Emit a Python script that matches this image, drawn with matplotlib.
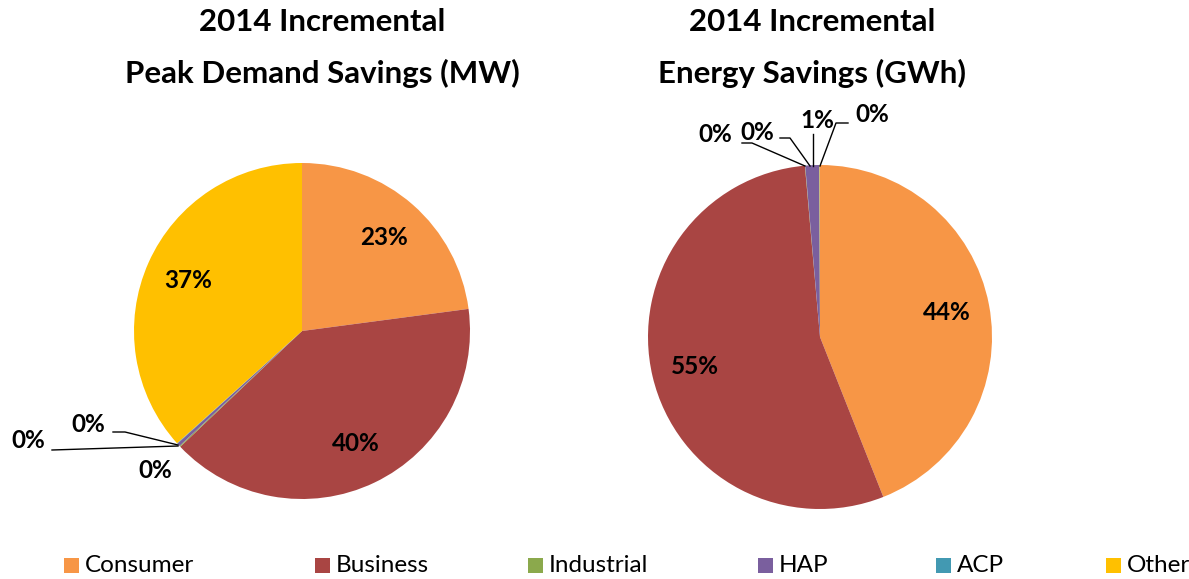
import matplotlib
matplotlib.use("Agg")
import matplotlib.pyplot as plt
from matplotlib.patches import Rectangle

plt.rcParams['font.family'] = ['Lato', 'DejaVu Sans']

categories = ["Consumer", "Business", "Industrial", "HAP", "ACP", "Other"]
colors = ["#F79646", "#A94543", "#8BA94C", "#7A5F9E", "#4299B2", "#FFC000"]
peak_values = [22.9, 40.0, 0.1, 0.3, 0.05, 36.65]
energy_values = [44.0, 54.6, 0.03, 1.3, 0.03, 0.04]
titles = ["2014 Incremental\nPeak Demand Savings (MW)",
          "2014 Incremental\nEnergy Savings (GWh)"]

W, H = 1189, 579
fig = plt.figure(figsize=(W / 100, H / 100), dpi=100)
ax = fig.add_axes([0, 0, 1, 1])

def fmt(v, total):
    return f"{v / total * 100:.0f}%"

def draw_pie(values, title, center, radius, pctdist, small_labels, title_x):
    total = sum(values)
    ax.pie(
        values, colors=colors, startangle=90, counterclock=False,
        center=center, radius=radius,
        autopct=lambda p: f"{p:.0f}%" if p >= 5 else "",
        pctdistance=pctdist,
        wedgeprops=dict(linewidth=0),
        textprops=dict(fontsize=17.5, fontweight='bold', color='black'))
    for idx, (txy, path) in small_labels.items():
        ax.text(txy[0], txy[1], fmt(values[idx], total), fontsize=17.5,
                fontweight='bold', ha='center', va='center')
        if path:
            xs, ys = zip(*path)
            ax.plot(xs, ys, color='black', lw=1)
    line1, line2 = title.split("\n")
    ax.text(title_x, H - 22, line1, fontsize=22.5, fontweight='bold',
            ha='center', va='center')
    ax.text(title_x, H - 73, line2, fontsize=22.5, fontweight='bold',
            ha='center', va='center')

left_small = {
    2: ((155, H - 470), None),
    3: ((28, H - 440), [(52, H - 450), (178, H - 446)]),
    4: ((88, H - 425), [(113, H - 432), (125, H - 432), (178, H - 445)]),
}
draw_pie(peak_values, titles[0], (302, H - 331), 168, 0.74, left_small, 322)

right_small = {
    2: ((715, H - 135), [(742, H - 143), (752, H - 143), (805, H - 166)]),
    4: ((757, H - 132), [(780, H - 138), (790, H - 138), (810, H - 166)]),
    3: ((817, H - 120), [(813, H - 134), (813, H - 166)]),
    5: ((872, H - 115), [(848, H - 123), (836, H - 123), (820, H - 166)]),
}
draw_pie(energy_values, titles[1], (820, H - 337), 172, 0.75, right_small, 812)

legend_x = [64, 315, 528, 758, 936, 1106]
for x, name, c in zip(legend_x, categories, colors):
    ax.add_patch(Rectangle((x, H - 573), 15, 15, color=c, lw=0))
    ax.text(x + 21, H - 565, name, fontsize=17.5, ha='left', va='center')

ax.set_xlim(0, W)
ax.set_ylim(0, H)
ax.set_aspect('equal')
ax.axis('off')
fig.savefig("out.png", dpi=100)
